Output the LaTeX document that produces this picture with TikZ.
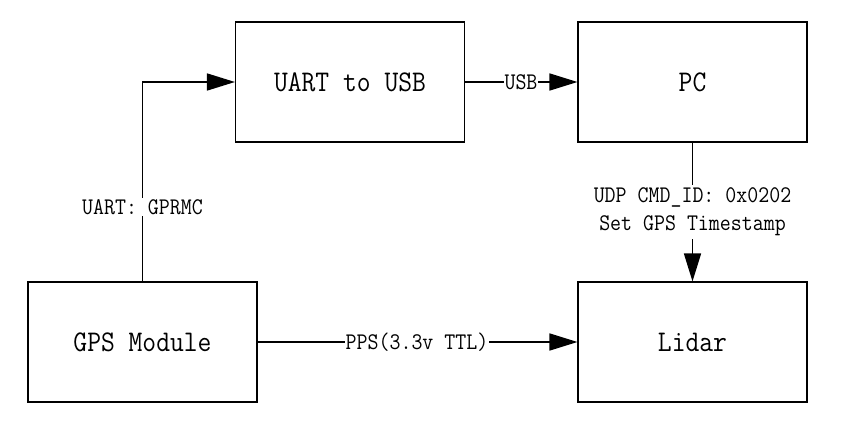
\documentclass[tikz,border=0pt]{standalone}
\usepackage{graphicx}
\usetikzlibrary{arrows.meta}
\newcommand{\talltxt}[1]{\scalebox{1}[1.12]{#1}}
\begin{document}
\begin{tikzpicture}[x=1pt,y=-1pt,
  blockbox/.style={draw=black,line width=1.1pt,minimum width=229pt,minimum height=120pt,inner sep=0pt,
    font=\fontsize{26.8}{30}\selectfont\ttfamily},
  conn/.style={draw=black,line width=1.6pt,-{Triangle[length=28pt,width=17pt]}},
  lbl/.style={fill=white,inner sep=1pt,font=\fontsize{21.3}{28}\selectfont\ttfamily,align=center}]
\useasboundingbox (0,0) rectangle (847,425);
\node[blockbox] (uart) at (350,82) {\talltxt{UART to USB}};
\node[blockbox] (pc) at (692.5,82) {\talltxt{PC}};
\node[blockbox] (gps) at (142.5,342) {\talltxt{GPS Module}};
\node[blockbox] (lidar) at (692.5,342) {\talltxt{Lidar}};
\draw[conn] (gps.north) |- (uart.west);
\node[lbl] (l1) at (142.5,207) {\talltxt{UART: GPRMC}};
\draw[conn] (uart.east) -- (pc.west);
\node[lbl,inner sep=0.5pt] (l2) at (521,82) {\talltxt{USB}};
\draw[conn] (pc.south) -- (lidar.north);
\node[lbl,inner sep=3pt] (l3) at (692.5,212) {\talltxt{UDP CMD\_ID: 0x0202}\\\talltxt{Set GPS Timestamp}};
\draw[conn] (gps.east) -- (lidar.west);
\node[lbl] (l4) at (417,342) {\talltxt{PPS(3.3v TTL)}};
\end{tikzpicture}
\end{document}
